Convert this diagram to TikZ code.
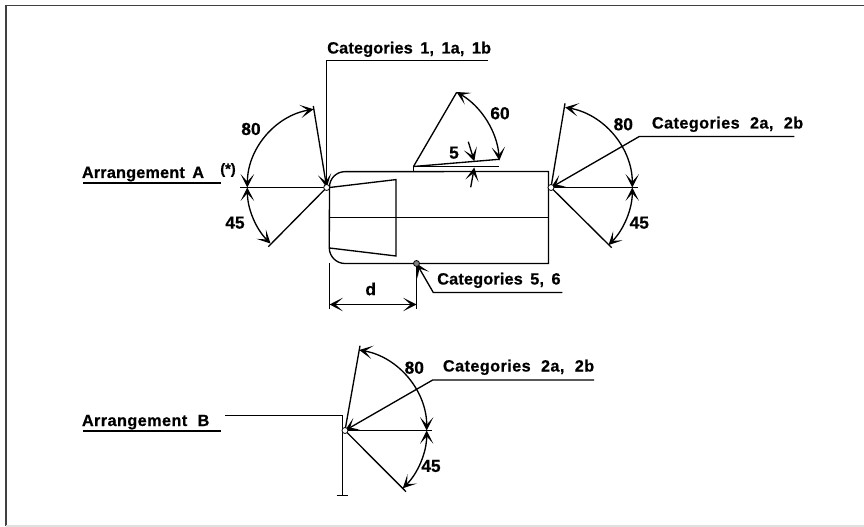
\documentclass[tikz,border=0pt]{standalone}
\usepackage{fontspec}
\setmainfont{Liberation Sans}
\newfontfamily\labfont[LetterSpace=2.5,WordSpace=2.1,FakeBold=0.6]{Liberation Sans Bold}
\newfontfamily\labtight[LetterSpace=1,WordSpace=1.6,FakeBold=0.6]{Liberation Sans Bold}
\newfontfamily\numfont[FakeBold=0.6]{Liberation Sans Bold}
\usetikzlibrary{arrows.meta}
\tikzset{
  line/.style={line width=1pt,black},
  tip/.style={-{Stealth[length=10pt,width=10pt,inset=5.6pt]}},
  bitip/.style={{Stealth[length=10pt,width=10pt,inset=5.6pt]}-{Stealth[length=10pt,width=10pt,inset=5.6pt]}},
  lab/.style={inner sep=0pt,font=\labfont\fontsize{12.2}{14}\selectfont,anchor=base west},
  labn/.style={inner sep=0pt,font=\labtight\fontsize{12.2}{14}\selectfont,anchor=base west},
  num/.style={inner sep=0pt,font=\numfont\fontsize{13}{15}\selectfont},
  under/.style={line width=1.5pt,black},
  pt/.style={circle,draw=black,fill=white,line width=0.6pt,inner sep=0pt,minimum size=4.5pt},
  ptg/.style={circle,draw=black,fill=gray,line width=0.6pt,inner sep=0pt,minimum size=4.5pt},
}
\begin{document}
\begin{tikzpicture}[x=0.75pt,y=-0.75pt]
\useasboundingbox (0,0) rectangle (864,527);
\fill[white] (0,0) rectangle (864,527);
\draw[line width=1pt,black!75] (6,526) -- (6,5.5) -- (864,5.5);
\draw[line width=0.8pt,black!12] (6,526) -- (864,526);
% body
\draw[line] (329.5,187) arc[start angle=180,end angle=90,radius=11.5pt] -- (548.5,171.5) -- (548.5,263.5) -- (345,263.5) arc[start angle=270,end angle=180,radius=11.8pt] -- cycle;
\draw[line] (329.5,217.5) -- (548.5,217.5);
\draw[line] (329.5,187.5) -- (396,179.6) -- (396,256) -- (329.5,248);
% named points
\coordinate (PA) at (326.7,187.5);
\coordinate (PR) at (551,187.5);
\coordinate (PB) at (345,430.5);
\coordinate (PC) at (416.5,263.5);
% Arrangement A
\coordinate (AL) at (240.3,187.5);
\coordinate (A80) at (313.3,106);
\coordinate (A45) at (268.3,246.7);
\coordinate (C1a) at (488,60.5);
\coordinate (C1b) at (326.7,60.5);
\draw[line] (AL) -- (PA);
\draw[line,tip] (A80) -- (PA);
\draw[line] (A45) -- (PA);
\draw[line] (C1a) -- (C1b) -- (PA);
\draw[line,bitip] (PA) ++(99.5:59.5pt) arc[start angle=99.5,end angle=180,radius=59.5pt];
\draw[line,bitip] (PA) ++(180:59.5pt) arc[start angle=180,end angle=225,radius=59.5pt];
\node[pt] (nPA) at (PA) {};
% d dimension
\coordinate (D1) at (329.5,309);
\coordinate (D2) at (416.5,309);
\coordinate (D1u) at (329.5,304.5);
\coordinate (D2u) at (416.5,304.5);
\draw[line] (329.5,263) -- (D1);
\draw[line] (PC) -- (D2);
\draw[line,bitip] (D1u) -- (D2u);
% 5,6 leader
\coordinate (C5a) at (562.3,292.5);
\coordinate (C5b) at (433.3,292.5);
\draw[line,tip] (C5a) -- (C5b) -- (PC);
\node[ptg] (nPC) at (PC) {};
% weld
\coordinate (W0) at (413.5,166.5);
\coordinate (W1) at (499.3,166.5);
\coordinate (W2) at (499.3,159.3);
\coordinate (W3) at (456.7,92.3);
\draw[line] (413.5,171.5) -- (W0) -- (W1);
\draw[line] (W0) -- (W2);
\draw[line] (W0) -- (W3);
\draw[line,bitip] (W0) ++(60:64.5pt) arc[start angle=60,end angle=4,radius=64.5pt];
\coordinate (F1) at (468.3,141.7);
\coordinate (F2) at (474.3,161.3);
\coordinate (F3) at (470.7,187.3);
\coordinate (F4) at (474.3,167.5);
\draw[line,tip] (F1) -- (F2);
\draw[line,tip] (F3) -- (F4);
% Right
\coordinate (RH) at (637.7,187.5);
\coordinate (R80) at (565,103.3);
\coordinate (R45) at (611.7,247.7);
\coordinate (C2a) at (794.3,136.5);
\coordinate (C2b) at (639.3,136.5);
\draw[line] (PR) -- (RH);
\draw[line] (PR) -- (R80);
\draw[line] (PR) -- (R45);
\draw[line,tip] (C2a) -- (C2b) -- (PR);
\draw[line,bitip] (PR) ++(80:61pt) arc[start angle=80,end angle=0,radius=61pt];
\draw[line,bitip] (PR) ++(0:61pt) arc[start angle=0,end angle=-45,radius=61pt];
\node[pt] (nPR) at (PR) {};
% Arrangement B
\coordinate (BH) at (431.7,430.5);
\coordinate (B80) at (360,345.7);
\coordinate (B45) at (406,491.7);
\coordinate (Ba) at (225,415.5);
\coordinate (Bb) at (342.5,415.5);
\coordinate (Bc) at (342.5,495.5);
\coordinate (Bf1) at (336.7,495.5);
\coordinate (Bf2) at (348.3,495.5);
\coordinate (C2c) at (594,380);
\coordinate (C2d) at (432.7,380);
\draw[line] (Ba) -- (Bb) -- (Bc);
\draw[line] (Bf1) -- (Bf2);
\draw[line] (PB) -- (BH);
\draw[line] (PB) -- (B80);
\draw[line] (PB) -- (B45);
\draw[line,tip] (C2c) -- (C2d) -- (PB);
\draw[line,bitip] (PB) ++(80:61.3pt) arc[start angle=80,end angle=0,radius=61.3pt];
\draw[line,bitip] (PB) ++(0:61.3pt) arc[start angle=0,end angle=-45,radius=61.3pt];
\node[pt] (nPB) at (PB) {};
% underlines
\coordinate (U1) at (83,183);
\coordinate (U2) at (221,183);
\coordinate (U3) at (83,430.7);
\coordinate (U4) at (221,430.7);
\draw[under] (U1) -- (U2);
\draw[under] (U3) -- (U4);
% labels
\node[labn] (t1) at (327,53.5) {Categories 1, 1a, 1b};
\node[lab] (t2) at (651.7,128.5) {Categories 2a, 2b};
\node[labn] (t3) at (437,284.5) {Categories 5, 6};
\node[lab] (t4) at (442.7,371.5) {Categories 2a, 2b};
\node[labn] (t5) at (81.7,178) {Arrangement A};
\node[lab] (t6) at (81.7,426) {Arrangement B};
\node[num,font=\numfont\fontsize{11}{13}\selectfont] (t7) at (228,170) {(*)};
\node[num] (n1) at (251,129) {80};
\node[num] (n2) at (235,222.7) {45};
\node[num] (n3) at (500,113.3) {60};
\node[num] (n4) at (454,152.7) {5};
\node[num] (n5) at (623.3,124.3) {80};
\node[num] (n6) at (639.3,222.7) {45};
\node[num] (n7) at (414.3,367.7) {80};
\node[num] (n8) at (431,466) {45};
\node[num] (n9) at (370.7,289) {d};
\end{tikzpicture}
\end{document}
